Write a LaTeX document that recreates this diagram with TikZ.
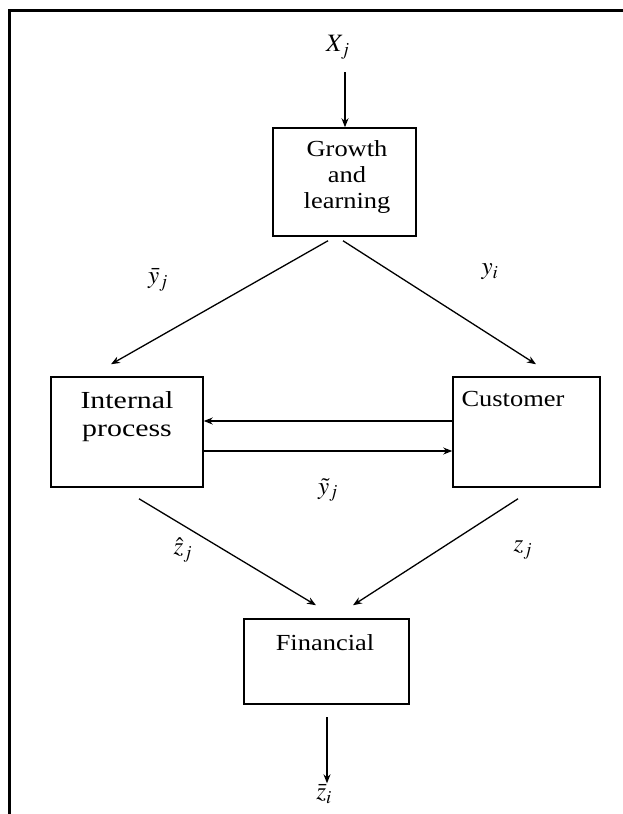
\documentclass[tikz,border=0pt]{standalone}
\usepackage{mathptmx}
\usepackage{fontspec}
\setmainfont{Liberation Serif}
\newfontfamily\wideA[FakeStretch=1.15]{Liberation Serif}
\newfontfamily\wideB[FakeStretch=1.22]{Liberation Serif}
\usetikzlibrary{arrows.meta,calc}
\begin{document}
\begin{tikzpicture}[x=1pt,y=-1pt,
  box/.style={draw,line width=1.5pt,minimum width=#1},
  txt/.style={font=\wideA\fontsize{23}{26}\selectfont,align=center,inner sep=0pt},
  txtb/.style={font=\wideB\fontsize{24.5}{28}\selectfont,align=center,inner sep=0pt},
  lab/.style={font=\fontsize{25}{28}\selectfont,inner sep=1pt},
  conn/.style={line width=1.3pt,-{Stealth[length=9pt,width=7pt]}}]
\useasboundingbox (0,0) rectangle (623,814);
\draw[line width=3pt] (9,814) -- (9,10) -- (623,10);
% boxes
\node[box=143pt,minimum height=108pt] (growth) at (344.5,182) {};
\node[box=152pt,minimum height=110pt] (int) at (127,432) {};
\node[box=147pt,minimum height=110pt] (cust) at (526.5,432) {};
\node[box=165pt,minimum height=85pt] (fin) at (326.5,661.5) {};
% texts
\node[txt,anchor=north] (gtxt) at (347,140) {Growth\\and\\learning};
\node[txtb,anchor=north] (itxt) at (127,391) {Internal\\process};
\node[txt,anchor=north] (ctxt) at (513,391) {Customer};
\node[txt,anchor=north] (ftxt) at (325,634) {Financial};
% labels
\node[lab] (xj) at (338,47) {$X_j$};
\node[lab] (ybar) at (158,280) {$\bar{y}_j$};
\node[lab] (yi) at (490,272) {$y_i$};
\node[lab] (ytil) at (328,490) {$\tilde{y}_j$};
\node[lab] (zhat) at (183,550) {$\hat{z}_j$};
\node[lab] (zj) at (523,550) {$z_j$};
\node[lab] (zbar) at (324,794) {$\bar{z}_i$};
% connectors
\coordinate (xa) at (345,72);
\draw[conn] (xa) -- (xa |- growth.north);
\draw[conn] ($(growth.south)+(-16.5,4)$) -- ($(int.north)+(-16,-12)$);
\draw[conn] ($(growth.south)+(-1.5,4)$) -- ($(cust.north)+(9.5,-12)$);
\draw[conn] ($(cust.west)+(0,-11)$) -- ($(int.east)+(0,-11)$);
\draw[conn] ($(int.east)+(0,19)$) -- ($(cust.west)+(0,19)$);
\draw[conn] ($(int.south)+(12,11)$) -- ($(fin.north)+(-10.5,-13)$);
\draw[conn] ($(cust.south)+(-8.5,11)$) -- ($(fin.north)+(26.5,-13)$);
\coordinate (fa) at (327,717);
\draw[conn] (fa) -- (fa |- zbar.north);
\end{tikzpicture}
\end{document}
